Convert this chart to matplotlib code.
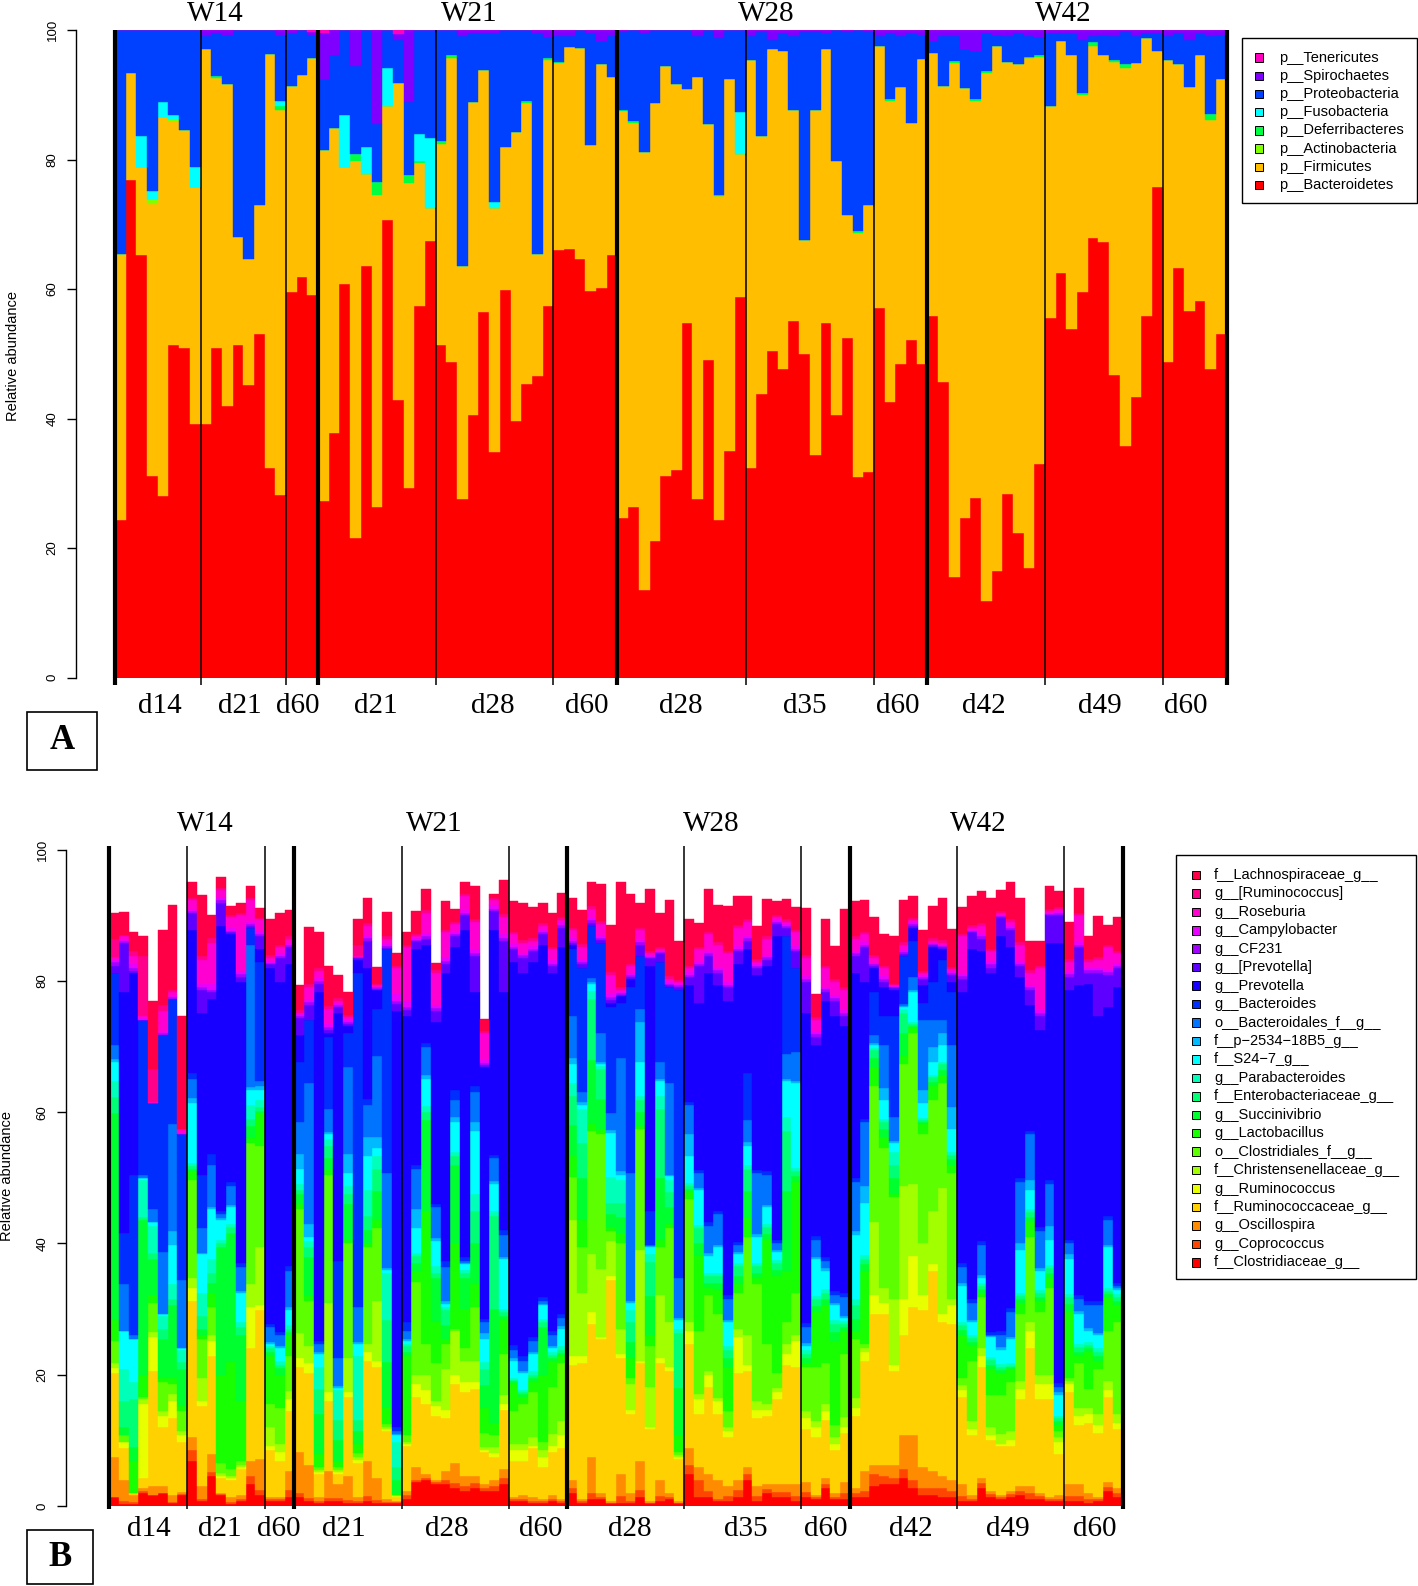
import numpy as np
import matplotlib
matplotlib.use("Agg")
import matplotlib.pyplot as plt
from matplotlib.patches import Rectangle

plt.rcParams["font.family"] = ["Liberation Sans", "DejaVu Sans"]
SERIF = "Liberation Serif"

# sample grouping (same 104 samples in both panels)
week_labels = ["W14", "W21", "W28", "W42"]
day_labels = ["d14", "d21", "d60", "d21", "d28", "d60", "d28", "d35", "d60", "d42", "d49", "d60"]
day_sizes = [8, 8, 3, 11, 11, 6, 12, 12, 5, 11, 11, 6]

# label placement along the sample axis (in bar units), as set in the original figure
week_pos_a = [9.4, 33.1, 60.9, 88.7]
day_pos_a = [4.2, 11.7, 17.1, 24.4, 35.3, 44.1, 52.9, 64.5, 73.2, 81.3, 92.1, 100.2]
week_pos_b = [9.9, 33.4, 61.8, 89.2]
day_pos_b = [4.1, 11.4, 17.4, 24.1, 34.6, 44.3, 53.4, 65.3, 73.5, 82.3, 92.2, 101.1]

# ---- panel A: phylum level, cumulative tops per sample (bottom -> top) ----
phylum_names = ["p__Bacteroidetes", "p__Firmicutes", "p__Actinobacteria", "p__Deferribacteres",
                "p__Fusobacteria", "p__Proteobacteria", "p__Spirochaetes", "p__Tenericutes"]
phylum_colors = ["#FF0000", "#FFBF00", "#80FF00", "#00FF40", "#00FFFF", "#0040FF", "#8000FF", "#FF00BF"]
phylum_tops = [
    [24.3, 65.4, 65.4, 65.4, 65.4, 100, 100, 100], [76.8, 93.4, 93.4, 93.4, 93.4, 100, 100, 100],
    [65.3, 78.8, 78.8, 78.8, 83.6, 100, 100, 100], [31.1, 73.2, 73.9, 73.9, 75.1, 100, 100, 100],
    [28.0, 86.6, 86.6, 86.6, 88.9, 100, 100, 100], [51.3, 85.9, 86.2, 86.2, 86.8, 100, 100, 100],
    [50.9, 84.5, 84.5, 84.5, 84.5, 100, 100, 100], [39.2, 75.8, 75.8, 75.8, 78.8, 100, 100, 100],
    [39.2, 97.0, 97.0, 97.0, 97.0, 99.0, 100, 100], [50.9, 92.6, 92.6, 92.9, 92.9, 99.5, 100, 100],
    [42.0, 91.6, 91.6, 91.6, 91.6, 99.2, 100, 100], [51.4, 68.0, 68.0, 68.0, 68.0, 100, 100, 100],
    [45.2, 64.7, 64.7, 64.7, 64.7, 100, 100, 100], [53.1, 73.0, 73.0, 73.0, 73.0, 100, 100, 100],
    [32.4, 96.3, 96.3, 96.3, 96.3, 100, 100, 100], [28.2, 87.6, 87.6, 88.3, 89.0, 99.2, 100, 100],
    [59.5, 91.4, 91.4, 91.4, 91.4, 99.5, 100, 100], [61.8, 93.0, 93.0, 93.0, 93.0, 100, 100, 100],
    [59.1, 95.7, 95.7, 95.7, 95.7, 99.3, 99.7, 100],
    [27.2, 81.5, 81.5, 81.5, 81.5, 92.4, 99.5, 100], [37.8, 84.8, 84.8, 84.8, 84.8, 96.1, 100, 100],
    [60.8, 78.9, 78.9, 78.9, 86.8, 100, 100, 100], [21.5, 79.7, 79.7, 80.9, 80.9, 94.5, 100, 100],
    [63.6, 77.8, 77.8, 77.8, 82.0, 100, 100, 100], [26.4, 74.5, 74.5, 76.6, 76.6, 85.5, 100, 100],
    [70.7, 88.3, 88.3, 88.3, 94.2, 100, 100, 100], [42.9, 91.8, 91.8, 91.8, 91.8, 98.4, 99.4, 100],
    [29.3, 76.4, 76.4, 77.6, 77.6, 88.9, 100, 100], [57.4, 79.4, 79.4, 79.7, 84.0, 100, 100, 100],
    [67.4, 72.5, 72.5, 72.5, 83.4, 100, 100, 100],
    [51.4, 82.4, 82.4, 82.8, 82.8, 100, 100, 100], [48.8, 95.7, 95.7, 96.1, 96.1, 100, 100, 100],
    [27.6, 63.5, 63.5, 63.5, 63.5, 99.1, 100, 100], [40.5, 88.9, 88.9, 88.9, 88.9, 99.5, 100, 100],
    [56.5, 93.8, 93.8, 93.8, 93.8, 99.5, 100, 100], [34.9, 72.5, 72.5, 72.5, 73.5, 99.6, 100, 100],
    [59.8, 81.9, 81.9, 81.9, 81.9, 100, 100, 100], [39.6, 84.3, 84.3, 84.3, 84.3, 100, 100, 100],
    [45.4, 88.8, 88.8, 89.1, 89.1, 100, 100, 100], [46.6, 65.4, 65.4, 65.4, 65.4, 99.6, 100, 100],
    [57.4, 95.4, 95.4, 95.6, 95.6, 98.9, 100, 100],
    [66.1, 94.9, 94.9, 95.1, 95.1, 99.0, 100, 100], [66.2, 97.4, 97.4, 97.4, 97.4, 99.0, 100, 100],
    [64.6, 97.2, 97.2, 97.2, 97.2, 100, 100, 100], [59.7, 82.2, 82.2, 82.2, 82.2, 99.5, 100, 100],
    [60.1, 94.7, 94.7, 94.7, 94.7, 98.3, 100, 100], [65.3, 92.7, 92.7, 92.7, 92.7, 99.0, 100, 100],
    [24.6, 87.5, 87.5, 87.6, 87.6, 99.7, 100, 100], [26.4, 85.7, 85.7, 85.9, 85.9, 100, 100, 100],
    [13.6, 81.1, 81.1, 81.1, 81.1, 99.5, 100, 100], [21.1, 88.8, 88.8, 88.8, 88.8, 100, 100, 100],
    [31.2, 94.4, 94.4, 94.4, 94.4, 100, 100, 100], [32.0, 91.7, 91.7, 91.7, 91.7, 100, 100, 100],
    [54.7, 90.9, 90.9, 90.9, 90.9, 100, 100, 100], [27.6, 92.7, 92.7, 92.7, 92.7, 99.0, 100, 100],
    [49.0, 85.5, 85.5, 85.5, 85.5, 100, 100, 100], [24.3, 74.3, 74.3, 74.5, 74.5, 98.8, 100, 100],
    [35.0, 92.4, 92.4, 92.4, 92.4, 100, 100, 100], [58.8, 80.9, 80.9, 80.9, 87.4, 100, 100, 100],
    [32.4, 95.3, 95.3, 95.3, 95.3, 99.0, 100, 100], [43.8, 83.7, 83.7, 83.7, 83.7, 99.7, 100, 100],
    [50.5, 97.0, 97.0, 97.0, 97.0, 98.5, 100, 100], [47.7, 96.8, 96.8, 96.8, 96.8, 99.5, 100, 100],
    [55.1, 87.6, 87.6, 87.6, 87.6, 99.0, 100, 100], [50.0, 67.6, 67.6, 67.6, 67.6, 99.7, 100, 100],
    [34.3, 87.6, 87.6, 87.6, 87.6, 99.7, 100, 100], [54.7, 97.0, 97.0, 97.0, 97.0, 99.5, 100, 100],
    [40.6, 79.7, 79.7, 79.7, 79.7, 100, 100, 100], [52.4, 71.5, 71.5, 71.5, 71.5, 99.7, 100, 100],
    [30.9, 68.7, 68.7, 68.9, 68.9, 100, 100, 100], [31.8, 72.9, 72.9, 72.9, 72.9, 99.7, 100, 100],
    [57.0, 97.5, 97.5, 97.5, 97.5, 99.0, 100, 100], [42.6, 89.1, 89.1, 89.3, 89.3, 99.5, 100, 100],
    [48.4, 91.2, 91.2, 91.2, 91.2, 99.0, 100, 100], [52.1, 85.7, 85.7, 85.7, 85.7, 99.6, 100, 100],
    [48.5, 95.5, 95.5, 95.5, 95.5, 99.2, 100, 100],
    [55.9, 96.5, 96.5, 96.5, 96.5, 98.3, 100, 100], [45.7, 91.4, 91.4, 91.4, 91.4, 99.0, 100, 100],
    [15.5, 94.9, 94.9, 95.2, 95.2, 99.0, 100, 100], [24.7, 91.1, 91.1, 91.1, 91.1, 97.0, 100, 100],
    [27.8, 89.1, 89.1, 89.4, 89.4, 96.7, 100, 100], [11.9, 93.4, 93.4, 93.7, 93.7, 99.5, 100, 100],
    [16.4, 97.5, 97.5, 97.5, 97.5, 99.3, 100, 100], [28.4, 95.0, 95.0, 95.0, 95.0, 99.0, 100, 100],
    [22.3, 94.7, 94.7, 94.7, 94.7, 99.5, 100, 100], [17.0, 95.7, 95.7, 95.9, 95.9, 99.0, 100, 100],
    [33.0, 95.9, 95.9, 96.1, 96.1, 98.9, 100, 100],
    [55.5, 88.3, 88.3, 88.3, 88.3, 99.6, 100, 100], [62.4, 98.3, 98.3, 98.3, 98.3, 99.5, 100, 100],
    [53.9, 96.2, 96.2, 96.2, 96.2, 99.5, 100, 100], [59.5, 89.9, 89.9, 90.2, 90.2, 98.5, 100, 100],
    [67.9, 97.6, 97.6, 98.1, 98.1, 99.0, 100, 100], [67.2, 96.2, 96.2, 96.2, 96.2, 99.3, 100, 100],
    [46.8, 95.0, 95.0, 95.3, 95.3, 99.0, 100, 100], [35.7, 94.2, 94.2, 94.7, 94.7, 99.7, 100, 100],
    [43.4, 94.9, 94.9, 94.9, 94.9, 99.0, 100, 100], [55.9, 98.7, 98.7, 98.7, 98.7, 99.5, 100, 100],
    [75.8, 96.7, 96.7, 96.7, 96.7, 99.5, 100, 100],
    [48.8, 95.3, 95.3, 95.3, 95.3, 99.0, 100, 100], [63.3, 94.7, 94.7, 94.7, 94.7, 99.5, 100, 100],
    [56.6, 91.2, 91.2, 91.2, 91.2, 98.5, 100, 100], [58.2, 96.1, 96.1, 96.1, 96.1, 99.5, 100, 100],
    [47.7, 86.1, 86.1, 87.0, 87.0, 99.0, 100, 100], [53.0, 92.4, 92.4, 92.4, 92.4, 99.3, 100, 100],
]

# ---- panel B: genus level, cumulative tops per sample (bottom -> top) ----
genus_names = ["f__Clostridiaceae_g__", "g__Coprococcus", "g__Oscillospira", "f__Ruminococcaceae_g__",
               "g__Ruminococcus", "f__Christensenellaceae_g__", "o__Clostridiales_f__g__", "g__Lactobacillus",
               "g__Succinivibrio", "f__Enterobacteriaceae_g__", "g__Parabacteroides", "f__S24\u22127_g__",
               "f__p\u22122534\u221218B5_g__", "o__Bacteroidales_f__g__", "g__Bacteroides", "g__Prevotella",
               "g__[Prevotella]", "g__CF231", "g__Campylobacter", "g__Roseburia", "g__[Ruminococcus]",
               "f__Lachnospiraceae_g__"]
genus_colors = ["#FF0000", "#FF4600", "#FF8B00", "#FFD100", "#E8FF00", "#A2FF00", "#5DFF00", "#17FF00",
                "#00FF2E", "#00FF74", "#00FFB9", "#00FFFF", "#00B9FF", "#0074FF", "#002EFF", "#1700FF",
                "#5D00FF", "#A200FF", "#E800FF", "#FF00D1", "#FF008B", "#FF0046"]
genus_tops = [
    # W14
    [1.4, 1.4, 7.4, 20.2, 21.0, 21.8, 25.1, 28.3, 59.8, 62.3, 64.7, 67.6, 68.1, 70.3, 81.2, 81.2, 82.2, 82.9, 83.2, 83.7, 86.4, 90.3],
    [0.3, 0.8, 4.0, 8.8, 9.8, 9.8, 10.8, 10.8, 12.0, 16.0, 20.8, 26.7, 26.7, 33.8, 41.6, 78.3, 85.8, 86.0, 86.3, 86.8, 87.0, 90.5],
    [0.3, 0.6, 1.7, 2.0, 2.0, 2.0, 2.0, 6.9, 9.0, 16.3, 18.9, 25.4, 25.4, 26.0, 50.4, 81.2, 81.5, 81.9, 82.5, 83.8, 84.5, 87.4],
    [2.0, 2.3, 2.7, 4.3, 15.6, 16.3, 16.6, 19.9, 43.6, 44.0, 49.7, 50.0, 50.0, 50.5, 74.1, 74.1, 74.1, 74.1, 74.3, 74.6, 83.8, 86.8],
    [1.7, 1.7, 3.0, 20.5, 25.7, 26.5, 30.9, 32.2, 37.7, 38.5, 42.6, 43.2, 43.2, 45.2, 61.4, 61.4, 61.4, 61.4, 61.4, 61.6, 66.6, 77.0],
    [2.0, 2.0, 3.0, 12.1, 13.7, 14.5, 18.9, 19.5, 25.4, 27.0, 29.0, 29.3, 29.3, 38.7, 71.8, 71.8, 71.8, 72.0, 72.2, 75.4, 76.4, 87.7],
    [0.4, 0.6, 1.7, 13.4, 16.0, 17.0, 18.6, 19.5, 30.6, 31.5, 33.8, 39.7, 41.9, 58.2, 77.3, 77.3, 77.3, 77.5, 77.7, 78.3, 78.6, 91.6],
    [1.7, 1.8, 2.2, 9.8, 10.8, 11.5, 14.4, 15.3, 20.8, 22.0, 23.8, 24.1, 24.1, 34.5, 56.6, 56.6, 56.6, 56.6, 56.9, 57.5, 57.5, 74.6],
    [6.9, 8.5, 10.5, 31.2, 33.2, 34.8, 49.7, 51.0, 51.3, 51.8, 52.3, 61.4, 62.1, 65.0, 66.0, 87.7, 90.3, 90.6, 91.0, 92.3, 92.6, 95.0],
    [0.7, 1.0, 3.0, 15.3, 16.0, 19.5, 25.4, 26.0, 27.0, 29.0, 32.5, 38.4, 38.6, 42.3, 50.4, 75.1, 78.6, 79.0, 79.5, 83.2, 83.8, 93.1],
    [4.6, 5.2, 7.9, 22.8, 25.1, 26.0, 30.3, 32.5, 34.0, 35.5, 37.7, 45.2, 45.5, 52.0, 53.6, 77.3, 78.3, 78.6, 79.5, 85.8, 86.5, 90.0],
    [1.7, 1.8, 2.0, 4.3, 4.6, 5.0, 6.6, 20.0, 39.4, 40.0, 40.6, 43.6, 43.8, 44.5, 45.0, 88.4, 91.9, 92.3, 92.8, 93.9, 94.2, 95.8],
    [0.3, 0.6, 1.4, 4.0, 4.3, 4.6, 5.6, 22.0, 41.6, 42.5, 43.0, 45.5, 45.8, 48.8, 49.3, 87.1, 87.4, 87.6, 88.0, 89.7, 90.0, 91.4],
    [0.7, 1.0, 1.7, 5.6, 6.0, 6.3, 6.9, 16.0, 26.0, 27.3, 28.0, 32.5, 32.8, 36.4, 37.0, 79.9, 80.6, 81.0, 81.5, 90.0, 90.4, 91.9],
    [3.3, 4.5, 6.9, 24.1, 30.3, 33.8, 55.3, 56.0, 57.9, 59.0, 61.1, 63.4, 63.8, 85.5, 88.1, 88.1, 88.3, 88.6, 89.0, 92.3, 92.6, 94.5],
    [1.7, 2.5, 7.2, 29.9, 30.6, 39.4, 54.9, 59.8, 60.2, 60.8, 61.8, 63.4, 64.0, 64.7, 82.9, 84.8, 86.8, 87.2, 87.6, 89.4, 89.6, 91.1],
    [0.7, 1.0, 1.4, 8.5, 9.2, 12.0, 15.6, 22.8, 23.5, 24.0, 24.4, 24.7, 25.0, 27.3, 27.8, 81.9, 82.5, 82.8, 83.1, 83.5, 84.0, 89.5],
    [0.7, 1.0, 1.4, 6.9, 8.2, 9.5, 15.0, 19.9, 21.0, 21.5, 22.1, 24.1, 24.4, 26.0, 26.5, 79.9, 83.5, 83.8, 84.3, 85.1, 85.5, 90.3],
    [1.4, 2.5, 5.3, 14.4, 16.3, 17.5, 22.8, 26.0, 26.5, 27.0, 27.5, 29.9, 30.3, 35.8, 36.5, 82.5, 85.1, 85.4, 85.8, 86.4, 86.8, 90.8],
    # W21
    [1.4, 2.0, 8.2, 21.2, 22.5, 26.4, 45.2, 46.0, 47.5, 48.2, 49.1, 51.4, 53.6, 58.5, 67.6, 71.8, 74.4, 74.7, 74.9, 75.1, 75.5, 79.3],
    [0.7, 1.2, 6.2, 20.2, 21.8, 24.4, 31.2, 32.0, 38.0, 39.4, 40.3, 41.0, 42.9, 64.4, 74.1, 74.1, 76.4, 76.8, 77.3, 79.0, 79.5, 88.2],
    [0.4, 0.8, 1.4, 4.9, 5.2, 5.5, 6.0, 7.9, 14.0, 17.9, 21.2, 23.1, 23.5, 24.7, 25.2, 78.3, 79.6, 80.0, 80.5, 81.5, 82.0, 87.4],
    [0.7, 1.2, 5.3, 16.0, 17.3, 30.9, 50.4, 51.4, 53.0, 54.9, 55.9, 56.6, 57.0, 60.5, 71.5, 72.1, 72.5, 73.0, 73.5, 75.7, 76.2, 82.2],
    [0.7, 1.2, 3.3, 4.9, 5.2, 5.5, 6.0, 6.9, 10.0, 13.1, 17.6, 18.0, 18.3, 22.5, 37.4, 75.1, 76.0, 76.3, 76.6, 77.0, 77.4, 80.9],
    [0.4, 0.9, 4.6, 16.6, 17.3, 22.5, 40.0, 40.6, 46.0, 47.5, 48.8, 50.7, 53.6, 66.9, 72.1, 73.1, 73.5, 73.8, 74.1, 74.5, 74.8, 78.3],
    [0.4, 0.8, 1.4, 6.6, 7.0, 7.5, 8.0, 9.5, 11.5, 13.1, 22.8, 24.7, 25.0, 30.3, 81.2, 83.2, 83.5, 83.6, 83.7, 83.8, 85.5, 89.5],
    [0.7, 1.5, 6.9, 22.1, 23.4, 24.7, 39.4, 40.0, 42.0, 44.2, 48.1, 53.3, 56.2, 61.1, 62.0, 81.9, 86.1, 86.5, 87.0, 88.4, 88.8, 92.6],
    [0.4, 0.9, 4.3, 21.2, 22.1, 31.2, 42.3, 43.6, 48.0, 51.4, 53.3, 54.6, 56.2, 68.6, 75.7, 78.6, 78.8, 79.0, 79.1, 79.3, 79.5, 82.1],
    [0.4, 0.6, 1.0, 11.4, 11.7, 12.0, 12.5, 15.0, 22.0, 28.3, 35.5, 36.0, 36.3, 50.7, 84.8, 84.8, 85.0, 85.3, 85.6, 86.4, 86.8, 90.5],
    [0.4, 0.6, 0.8, 1.4, 1.5, 1.6, 1.7, 2.0, 4.0, 6.0, 9.8, 10.8, 11.0, 11.5, 12.0, 75.4, 76.5, 77.0, 78.0, 81.9, 82.3, 84.2],
    [1.0, 1.7, 2.3, 9.2, 9.5, 9.8, 10.8, 22.8, 23.5, 24.4, 24.7, 25.1, 25.5, 26.7, 28.0, 74.7, 75.5, 76.0, 77.0, 85.1, 85.5, 87.5],
    [3.6, 4.0, 5.9, 16.6, 18.6, 19.9, 34.2, 35.8, 37.0, 38.1, 38.5, 42.3, 45.2, 51.4, 52.0, 84.8, 86.1, 86.3, 86.5, 86.8, 87.2, 90.6],
    [4.0, 4.3, 4.8, 15.6, 17.6, 19.9, 24.7, 45.0, 58.8, 60.0, 61.0, 65.0, 65.6, 69.9, 70.5, 85.5, 86.4, 86.8, 87.3, 90.3, 90.8, 94.0],
    [3.3, 3.6, 4.0, 13.7, 15.3, 16.0, 21.8, 28.0, 34.8, 35.5, 36.5, 40.3, 40.8, 45.5, 46.0, 73.8, 75.4, 75.8, 76.3, 81.2, 81.6, 82.7],
    [3.3, 4.0, 5.3, 13.4, 14.7, 20.8, 24.7, 25.4, 27.5, 29.9, 30.3, 30.8, 31.2, 36.4, 37.4, 81.2, 82.5, 83.0, 83.6, 87.4, 87.8, 92.1],
    [2.7, 3.5, 6.6, 18.6, 19.9, 26.7, 27.0, 40.0, 52.0, 53.3, 54.0, 58.5, 59.2, 61.8, 63.4, 85.1, 86.8, 87.1, 87.5, 88.7, 89.0, 91.0],
    [2.3, 3.0, 4.6, 17.3, 18.9, 22.1, 24.0, 30.0, 34.8, 35.5, 36.0, 36.8, 37.0, 37.4, 38.0, 87.7, 90.0, 90.4, 90.8, 92.9, 93.3, 95.0],
    [2.7, 3.5, 4.6, 17.9, 18.9, 22.1, 30.3, 33.8, 40.0, 44.9, 47.5, 57.2, 58.5, 63.1, 64.0, 78.3, 83.8, 84.3, 84.8, 89.0, 89.5, 94.4],
    [2.3, 2.8, 3.3, 8.2, 8.5, 9.0, 11.1, 15.0, 18.5, 20.8, 22.0, 25.4, 26.4, 28.0, 28.5, 66.9, 67.2, 67.5, 67.9, 72.1, 72.4, 74.2],
    [2.3, 3.0, 4.0, 7.5, 8.0, 9.0, 10.8, 12.7, 30.0, 44.2, 45.0, 49.1, 49.5, 53.0, 53.5, 87.7, 90.6, 91.0, 91.5, 92.3, 92.6, 93.2],
    [3.3, 4.2, 5.6, 14.7, 15.6, 16.9, 23.1, 28.3, 29.0, 29.5, 30.0, 37.7, 38.0, 41.3, 42.0, 78.3, 86.1, 86.6, 87.2, 89.7, 90.2, 95.3],
    [0.7, 1.0, 1.4, 6.9, 8.5, 9.5, 14.4, 18.6, 19.0, 19.2, 19.5, 22.1, 22.5, 23.8, 24.5, 82.9, 84.8, 85.2, 85.6, 87.1, 87.5, 92.1],
    [0.7, 1.0, 1.7, 6.9, 8.5, 9.5, 15.6, 16.6, 17.0, 17.3, 17.6, 20.2, 20.5, 22.1, 22.8, 81.2, 83.5, 83.9, 84.3, 85.8, 86.2, 91.8],
    [0.4, 0.8, 1.4, 8.8, 9.2, 10.5, 17.3, 18.9, 19.5, 20.0, 20.5, 23.1, 23.5, 25.1, 25.8, 82.9, 84.5, 84.9, 85.3, 86.1, 86.5, 91.2],
    [0.4, 0.7, 1.0, 5.9, 7.5, 8.5, 9.8, 20.0, 27.3, 28.0, 28.5, 30.6, 30.8, 31.2, 31.8, 85.5, 87.1, 87.4, 87.8, 88.4, 88.8, 91.8],
    [0.7, 1.0, 1.7, 8.2, 9.2, 11.0, 18.2, 22.1, 22.6, 23.0, 23.5, 24.1, 24.4, 26.0, 26.6, 81.2, 82.2, 82.6, 83.2, 84.8, 85.2, 90.3],
    [0.4, 0.7, 1.0, 8.8, 10.8, 13.0, 21.8, 22.8, 23.3, 23.8, 24.3, 27.0, 27.4, 28.6, 29.2, 85.1, 88.1, 88.5, 88.9, 89.3, 89.7, 93.4],
    # W28
    [2.0, 2.8, 4.0, 21.5, 22.8, 43.6, 50.1, 53.3, 58.0, 62.4, 64.5, 67.3, 68.2, 74.7, 84.8, 85.5, 85.8, 86.1, 86.5, 87.7, 88.1, 92.6],
    [0.4, 0.7, 1.0, 21.8, 22.8, 32.5, 39.4, 43.6, 50.0, 55.3, 60.5, 61.1, 61.5, 63.0, 81.9, 81.9, 82.5, 82.9, 83.4, 85.1, 85.6, 90.8],
    [1.0, 2.0, 7.5, 27.7, 29.6, 38.4, 57.2, 58.2, 68.0, 77.3, 78.5, 79.6, 79.8, 80.5, 88.4, 88.4, 88.8, 89.2, 89.6, 91.0, 91.4, 95.0],
    [1.0, 1.4, 2.0, 25.4, 25.8, 36.1, 56.6, 57.5, 62.0, 66.6, 67.0, 67.3, 67.6, 72.1, 85.8, 85.8, 86.2, 86.6, 87.0, 88.7, 89.1, 94.7],
    [0.4, 0.5, 0.7, 34.5, 35.1, 40.3, 41.9, 42.5, 44.5, 46.2, 50.1, 56.9, 57.3, 59.8, 76.0, 76.7, 77.1, 77.5, 78.0, 80.9, 81.4, 88.5],
    [0.4, 1.5, 4.9, 22.5, 23.1, 27.0, 40.0, 41.6, 44.0, 46.2, 49.7, 50.5, 51.0, 68.2, 76.7, 77.7, 77.9, 78.1, 78.3, 78.6, 79.0, 95.1],
    [0.4, 0.8, 2.0, 14.0, 14.7, 18.6, 19.5, 22.5, 25.0, 28.0, 29.9, 30.9, 31.2, 50.7, 79.0, 80.3, 80.6, 80.9, 81.2, 82.2, 82.6, 93.2],
    [1.4, 2.5, 6.9, 21.8, 22.1, 39.0, 57.5, 57.9, 60.0, 61.8, 62.5, 67.6, 73.8, 75.7, 83.8, 83.8, 85.5, 85.9, 86.3, 87.7, 88.1, 91.8],
    [0.4, 0.5, 0.7, 11.8, 12.1, 18.2, 24.4, 26.0, 32.0, 37.1, 38.4, 39.4, 39.6, 39.7, 45.0, 82.2, 83.5, 83.7, 83.9, 84.2, 84.6, 94.0],
    [0.7, 1.5, 4.0, 21.8, 22.5, 32.2, 39.4, 40.6, 50.0, 60.5, 62.4, 64.7, 65.0, 67.6, 82.9, 82.9, 84.2, 84.4, 84.6, 84.8, 85.2, 90.3],
    [1.0, 1.4, 2.0, 20.5, 21.2, 28.0, 42.3, 43.0, 45.5, 47.8, 49.7, 50.2, 50.5, 64.4, 79.0, 79.0, 79.3, 79.6, 79.9, 80.3, 80.7, 92.3],
    [0.4, 0.5, 0.7, 7.2, 7.5, 7.8, 8.2, 10.8, 18.0, 26.4, 27.0, 28.3, 28.6, 34.8, 78.6, 78.6, 79.0, 79.3, 79.6, 79.9, 80.2, 86.1],
    [4.9, 6.2, 8.8, 24.7, 26.7, 28.0, 46.8, 47.8, 48.3, 48.8, 49.2, 53.3, 56.6, 61.1, 61.6, 79.3, 80.6, 80.9, 81.3, 81.9, 82.3, 89.5],
    [1.4, 4.0, 5.9, 14.0, 16.3, 17.0, 26.7, 38.1, 40.0, 42.3, 42.8, 48.1, 48.4, 50.7, 51.2, 76.7, 82.2, 82.6, 83.0, 84.8, 85.2, 88.8],
    [1.4, 2.3, 4.9, 18.2, 19.9, 20.5, 32.2, 33.2, 34.0, 35.0, 35.5, 38.1, 38.5, 42.6, 43.2, 81.2, 83.8, 84.2, 84.6, 87.1, 87.5, 94.0],
    [0.7, 1.0, 4.0, 14.0, 16.0, 16.5, 29.3, 32.9, 34.0, 35.0, 35.5, 39.4, 39.8, 44.5, 45.0, 79.3, 81.2, 81.6, 82.0, 85.5, 85.9, 91.6],
    [0.7, 1.5, 3.0, 10.5, 11.4, 12.0, 14.4, 21.2, 22.5, 23.8, 24.3, 28.0, 28.4, 31.6, 32.2, 77.0, 79.0, 79.4, 79.8, 84.2, 84.6, 91.4],
    [1.4, 2.5, 4.0, 20.2, 25.7, 27.0, 32.5, 33.8, 35.0, 36.5, 37.0, 38.4, 38.7, 39.7, 40.2, 82.5, 84.5, 84.9, 85.3, 88.1, 88.5, 92.9],
    [4.0, 4.8, 5.9, 20.5, 21.5, 26.0, 41.0, 43.9, 48.0, 51.4, 52.0, 54.9, 55.4, 58.8, 66.0, 84.8, 86.1, 86.5, 86.9, 89.0, 89.4, 93.0],
    [0.7, 1.5, 3.0, 13.4, 14.7, 16.0, 33.8, 34.8, 35.5, 36.5, 37.0, 41.0, 41.5, 50.7, 51.2, 80.9, 81.9, 82.2, 82.5, 82.9, 83.3, 88.4],
    [2.0, 2.6, 3.3, 13.7, 14.7, 15.5, 24.7, 40.6, 41.5, 42.5, 43.0, 45.5, 45.9, 50.4, 51.0, 82.2, 83.2, 83.6, 84.0, 86.4, 86.8, 92.5],
    [1.4, 2.2, 3.3, 16.3, 17.3, 18.0, 20.2, 35.1, 36.0, 37.0, 37.5, 38.7, 39.0, 40.0, 40.5, 86.8, 88.7, 89.0, 89.3, 89.7, 90.0, 92.1],
    [1.4, 2.2, 3.3, 21.5, 23.1, 24.7, 28.0, 35.8, 48.0, 57.2, 59.2, 64.7, 65.0, 68.9, 86.8, 86.8, 88.1, 88.4, 88.7, 89.0, 89.4, 92.5],
    [0.7, 1.5, 3.3, 21.2, 25.1, 26.0, 32.5, 49.4, 50.2, 51.0, 51.5, 64.4, 64.8, 69.2, 81.9, 81.9, 84.5, 84.9, 85.3, 87.4, 87.8, 91.3],
    [1.4, 2.2, 3.6, 11.8, 13.4, 14.5, 21.2, 21.8, 22.5, 23.2, 23.8, 24.4, 24.8, 27.3, 27.9, 75.1, 79.9, 80.3, 80.7, 83.5, 83.9, 91.1],
    [1.0, 1.3, 1.7, 10.5, 12.1, 13.0, 21.2, 29.6, 30.5, 31.5, 32.0, 37.7, 38.0, 40.6, 41.2, 70.2, 71.5, 71.9, 72.3, 74.1, 74.5, 78.0],
    [2.7, 3.4, 4.3, 13.1, 14.4, 15.5, 21.8, 30.6, 31.5, 32.5, 33.0, 35.8, 36.2, 37.4, 38.0, 77.0, 78.3, 78.7, 79.1, 81.9, 82.3, 89.4],
    [1.0, 1.4, 2.0, 8.5, 9.5, 10.5, 12.4, 25.1, 26.5, 27.8, 28.3, 30.6, 31.0, 32.2, 32.8, 74.7, 77.0, 77.4, 77.8, 79.9, 80.3, 85.3],
    [1.0, 2.0, 3.6, 11.1, 12.1, 13.5, 23.1, 26.7, 27.3, 27.8, 28.2, 28.6, 29.0, 31.9, 32.5, 73.1, 74.7, 75.1, 75.5, 78.6, 79.0, 91.0],
    # W42
    [1.4, 2.0, 2.7, 13.7, 15.0, 16.5, 25.4, 26.7, 28.5, 30.6, 31.5, 41.3, 41.9, 49.4, 50.0, 81.2, 83.8, 84.2, 84.6, 86.4, 86.8, 92.1],
    [1.4, 2.3, 5.3, 22.1, 23.4, 24.0, 24.7, 35.8, 36.8, 37.7, 38.2, 46.2, 48.8, 58.5, 59.0, 79.9, 85.1, 85.5, 85.9, 87.1, 87.5, 92.3],
    [3.0, 4.9, 6.2, 29.3, 32.2, 43.2, 64.0, 66.9, 68.2, 69.5, 69.8, 70.2, 70.5, 71.8, 78.3, 81.9, 82.2, 82.5, 82.8, 83.5, 83.9, 89.7],
    [3.3, 4.6, 6.2, 29.3, 30.9, 33.2, 54.6, 56.2, 57.5, 58.5, 59.0, 61.8, 63.7, 70.2, 74.7, 79.0, 79.9, 80.3, 80.7, 81.9, 82.3, 87.1],
    [3.3, 4.3, 6.2, 20.5, 21.5, 31.6, 47.1, 47.5, 50.0, 52.0, 54.0, 55.3, 55.6, 59.2, 74.7, 78.6, 79.0, 79.1, 79.2, 79.3, 79.6, 86.9],
    [4.3, 5.6, 10.8, 26.0, 31.6, 48.8, 67.3, 68.5, 72.0, 75.1, 75.7, 76.0, 76.2, 76.5, 83.8, 83.8, 84.1, 84.4, 84.7, 85.5, 85.9, 92.3],
    [2.7, 4.0, 10.8, 30.3, 38.1, 49.1, 72.1, 72.8, 73.1, 73.4, 73.7, 78.3, 78.6, 80.6, 86.1, 88.1, 88.4, 88.7, 89.0, 89.3, 89.6, 92.9],
    [1.7, 2.7, 5.9, 29.9, 32.2, 40.0, 56.6, 58.2, 58.5, 58.8, 59.1, 61.4, 63.4, 74.1, 76.7, 79.3, 80.3, 80.6, 80.9, 81.2, 81.5, 87.7],
    [1.7, 2.7, 5.3, 35.8, 36.8, 44.9, 61.8, 64.0, 64.6, 65.3, 65.6, 67.6, 69.9, 74.1, 79.9, 85.1, 85.4, 85.6, 85.8, 86.1, 86.5, 91.4],
    [1.4, 2.7, 4.6, 28.0, 29.3, 48.4, 64.4, 65.6, 66.4, 67.3, 67.6, 70.2, 72.1, 74.1, 83.2, 84.8, 85.1, 85.3, 85.5, 85.8, 86.2, 92.7],
    [1.4, 2.3, 4.0, 27.7, 30.6, 31.5, 50.7, 52.0, 52.8, 53.5, 54.0, 57.5, 60.8, 70.2, 78.3, 79.9, 80.9, 81.2, 81.5, 81.8, 82.1, 87.9],
    [0.7, 1.5, 3.3, 16.6, 17.6, 18.5, 19.5, 26.0, 26.8, 27.5, 28.0, 33.5, 33.9, 36.4, 37.0, 78.3, 80.3, 80.7, 81.1, 86.8, 87.2, 91.2],
    [0.7, 1.1, 1.7, 10.8, 11.8, 13.0, 22.1, 24.4, 25.0, 25.6, 26.0, 28.0, 28.4, 30.9, 31.5, 84.8, 87.4, 87.6, 87.8, 88.1, 88.5, 92.9],
    [2.7, 3.5, 4.3, 21.2, 22.8, 24.0, 31.9, 32.5, 33.0, 33.5, 34.0, 34.8, 35.2, 39.7, 40.3, 84.5, 86.4, 86.8, 87.2, 88.4, 88.8, 93.7],
    [1.4, 1.9, 2.3, 10.1, 10.8, 12.0, 16.9, 20.8, 21.5, 22.2, 22.7, 25.7, 25.9, 26.0, 26.5, 81.2, 82.0, 82.5, 83.0, 84.5, 84.9, 92.6],
    [1.0, 1.4, 1.7, 9.2, 9.5, 11.0, 16.9, 20.2, 20.7, 21.2, 21.6, 23.8, 24.2, 26.0, 26.6, 86.8, 89.7, 89.9, 90.1, 90.3, 90.6, 93.9],
    [1.4, 1.9, 2.3, 9.2, 10.1, 11.5, 18.9, 20.8, 21.1, 21.4, 21.8, 25.4, 25.8, 29.6, 30.2, 85.1, 87.7, 88.1, 88.5, 89.0, 89.4, 95.0],
    [1.7, 2.3, 3.0, 16.3, 17.9, 19.0, 29.3, 30.9, 31.5, 32.0, 32.5, 39.0, 40.0, 49.4, 50.0, 80.6, 82.2, 82.6, 83.0, 85.5, 85.9, 92.6],
    [1.0, 2.0, 3.0, 24.1, 26.7, 28.0, 41.0, 43.2, 44.0, 44.8, 45.3, 48.1, 49.7, 56.6, 57.2, 76.4, 78.6, 79.0, 79.4, 81.2, 81.6, 86.1],
    [1.0, 1.5, 2.0, 16.3, 18.6, 20.0, 29.6, 31.2, 31.9, 32.5, 32.9, 35.8, 36.2, 41.9, 42.5, 72.5, 74.7, 75.1, 75.5, 81.9, 82.3, 86.1],
    [0.7, 1.0, 1.4, 16.3, 18.6, 20.0, 33.2, 34.8, 35.5, 36.2, 36.7, 40.6, 42.6, 49.1, 49.7, 85.8, 90.0, 90.2, 90.4, 90.6, 91.0, 94.5],
    [0.7, 1.1, 1.7, 7.9, 9.8, 10.5, 11.5, 12.4, 13.0, 13.4, 13.7, 16.9, 17.3, 18.2, 18.8, 85.8, 90.0, 90.3, 90.6, 90.9, 91.2, 93.7],
    [0.7, 1.5, 3.3, 17.3, 18.6, 19.0, 19.5, 29.6, 30.8, 31.9, 32.3, 37.7, 38.4, 40.0, 40.6, 78.6, 80.6, 81.0, 81.4, 82.9, 83.3, 89.0],
    [0.7, 1.5, 3.3, 12.4, 13.7, 15.0, 21.8, 22.8, 23.5, 24.2, 24.7, 29.3, 29.7, 31.6, 32.2, 79.3, 85.1, 85.5, 86.0, 90.0, 90.4, 94.2],
    [0.4, 1.0, 2.0, 12.7, 14.0, 15.0, 17.9, 23.4, 24.0, 24.6, 25.0, 26.7, 27.1, 30.6, 31.2, 79.6, 81.2, 81.6, 82.0, 82.9, 83.3, 86.9],
    [0.7, 1.0, 1.4, 11.1, 12.4, 14.0, 20.8, 22.1, 22.8, 23.5, 24.0, 26.0, 26.4, 30.6, 31.2, 74.7, 81.2, 81.6, 82.0, 83.2, 83.6, 89.9],
    [2.3, 2.9, 3.6, 16.6, 17.6, 19.0, 26.7, 31.9, 32.3, 32.7, 33.2, 39.4, 39.8, 43.6, 44.2, 76.0, 80.9, 81.3, 81.7, 85.1, 85.5, 88.5],
    [1.4, 2.0, 2.7, 11.8, 12.7, 14.0, 28.0, 30.6, 31.2, 31.8, 32.3, 32.9, 33.2, 33.5, 34.0, 79.0, 81.9, 82.3, 82.7, 84.2, 84.6, 89.7],
]

W, H = 1418, 1586
fig = plt.figure(figsize=(W / 100, H / 100), dpi=100)


def px_axes(left, right, top, bottom):
    return fig.add_axes([left / W, 1 - bottom / H, (right - left) / W, (bottom - top) / H])


def fig_rect(l, r, t, b, **kw):
    fig.add_artist(Rectangle((l / W, 1 - b / H), (r - l) / W, (b - t) / H,
                             transform=fig.transFigure, **kw))


def draw_panel(ax, tops, colors, xlim, line_span, week_pos, week_y, day_pos, day_y):
    tops = np.asarray(tops, dtype=float)
    n = len(tops)
    heights = np.diff(np.hstack([np.zeros((n, 1)), tops]), axis=1)
    x = np.arange(n)
    for j, c in enumerate(colors):
        ax.bar(x, heights[:, j], bottom=tops[:, j] - heights[:, j], width=1.0, align="edge",
               color=c, edgecolor=c, linewidth=0.3)
    ax.set_xlim(*xlim)
    ax.set_ylim(0, 100)
    for s in ["top", "right", "bottom"]:
        ax.spines[s].set_visible(False)
    ax.spines["left"].set_linewidth(1.0)
    ax.set_xticks([])
    ax.set_yticks(range(0, 101, 20))
    ax.tick_params(axis="y", length=6.5, width=1.0, pad=6, labelsize=9.5)
    for lbl in ax.get_yticklabels():
        lbl.set_rotation(90)
        lbl.set_va("center")

    edges = np.concatenate([[0], np.cumsum(day_sizes)])
    for k, e in enumerate(edges):
        lw = 3.0 if k % 3 == 0 else 1.1
        ax.vlines(e, line_span[0], line_span[1], colors="black", linewidth=lw, clip_on=False)
    for m, lab in zip(day_pos, day_labels):
        ax.text(m, day_y, lab, ha="center", va="baseline", fontsize=21, family=SERIF, clip_on=False)
    for m, lab in zip(week_pos, week_labels):
        ax.text(m, week_y, lab, ha="center", va="baseline", fontsize=21, family=SERIF, clip_on=False)


def draw_legend(box, names, colors, first_y, step, sq_x, text_x):
    l, r, t, b = box
    fig_rect(l, r, t, b, fill=False, edgecolor="black", linewidth=1.0)
    sq = 8.5
    for k, (name, c) in enumerate(zip(names[::-1], colors[::-1])):
        y = first_y + k * step
        fig_rect(sq_x - sq / 2, sq_x + sq / 2, y - sq / 2, y + sq / 2,
                 facecolor=c, edgecolor="black", linewidth=0.7)
        fig.text(text_x / W, 1 - y / H, name, ha="left", va="center", fontsize=10.5)


def panel_tag(letter, l, r, t, b):
    fig_rect(l, r, t, b, fill=False, edgecolor="black", linewidth=1.2)
    fig.text((l + r) / 2 / W, 1 - (t + b) / 2 / H, letter, ha="center", va="center",
             fontsize=25, fontweight="bold", family=SERIF)


# panel A
axA = px_axes(76, 1231, 30, 677.6)
draw_panel(axA, phylum_tops, phylum_colors, ((76 - 115) / 10.69, (1231 - 115) / 10.69),
           (-1.1, 100), week_pos_a, 101.4, day_pos_a, -5.5)
fig.text(13 / W, 1 - 356 / H, "Relative abundance", rotation=90, ha="center", va="center", fontsize=10.5)
draw_legend((1242, 1417, 38, 203), phylum_names, phylum_colors, 57.6, 18.2, 1259, 1279)
panel_tag("A", 27, 97, 712, 770)

# panel B
axB = px_axes(66, 1127, 849.6, 1506)
draw_panel(axB, genus_tops, genus_colors, ((66 - 109.2) / 9.745, (1127 - 109.2) / 9.745),
           (-0.5, 100.5), week_pos_b, 102.8, day_pos_b, -4.6)
fig.text(7 / W, 1 - 1176 / H, "Relative abundance", rotation=90, ha="center", va="center", fontsize=10.5)
draw_legend((1176, 1416, 854.6, 1279.4), genus_names, genus_colors, 874.9, 18.45, 1196, 1214)
panel_tag("B", 27, 93, 1530, 1584)

fig.savefig("out.png", dpi=100)
